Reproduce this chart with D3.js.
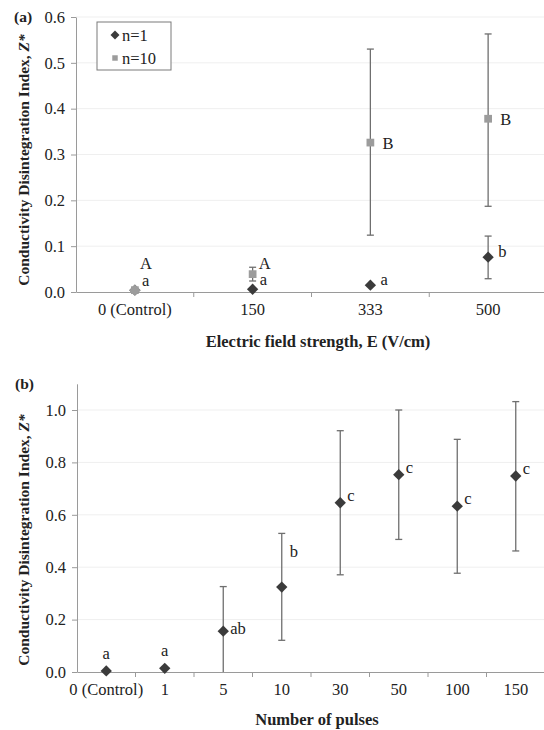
<!DOCTYPE html>
<html>
<head>
<meta charset="utf-8">
<script src="https://cdn.jsdelivr.net/npm/d3@7"></script>
<style>
  body { margin: 0; background: #fff; }
  svg text { font-family: "Liberation Serif", "DejaVu Serif", serif; fill: #222; }
</style>
</head>
<body>
<div id="chart"></div>
<script>
// ---- panel (a) data ----
const fieldCats = ["0 (Control)", "150", "333", "500"];
const n1Mean = [0.004, 0.006, 0.015, 0.076];
const n1Lo   = [null, null, null, 0.029];
const n1Hi   = [null, null, null, 0.122];
const n1Lbl  = ["a", "a", "a", "b"];
const n10Mean = [0.004, 0.039, 0.326, 0.378];
const n10Lo   = [null, 0.024, 0.124, 0.187];
const n10Hi   = [null, 0.054, 0.530, 0.563];
const n10Lbl  = ["A", "A", "B", "B"];
const yTicksA = [0, 0.1, 0.2, 0.3, 0.4, 0.5, 0.6];

// ---- panel (b) data ----
const pulseCats = ["0 (Control)", "1", "5", "10", "30", "50", "100", "150"];
const pulseMean = [0.004, 0.014, 0.156, 0.324, 0.646, 0.753, 0.633, 0.748];
const pulseLo   = [null, null, 0, 0.121, 0.371, 0.506, 0.377, 0.462];
const pulseHi   = [null, null, 0.326, 0.529, 0.921, 1.0, 0.888, 1.032];
const pulseLbl  = ["a", "a", "ab", "b", "c", "c", "c", "c"];
const yTicksB = [0, 0.2, 0.4, 0.6, 0.8, 1.0];

const W = 544, H = 730;
const svg = d3.select("#chart").append("svg")
  .attr("width", W).attr("height", H);

const diamond = d3.symbol().type(d3.symbolSquare).size(64);
const square = d3.symbol().type(d3.symbolSquare).size(60);
const axisCol = "#9a9a9a", gridCol = "#efefef", errCol = "#6f6f6f";
const FONT = "Liberation Serif, DejaVu Serif, serif";

function panel(o) {
  const g = svg.append("g");
  const x = d3.scaleBand().domain(o.cats).range([o.x0, o.x1]).padding(0);
  const y = d3.scaleLinear().domain([0, o.yMax]).range([o.yBottom, o.yTop]);

  // gridlines
  g.selectAll(".grid").data(o.yTicks.filter(d => d > 0)).enter().append("line")
    .attr("x1", o.x0).attr("x2", o.x1)
    .attr("y1", d => y(d)).attr("y2", d => y(d))
    .attr("stroke", gridCol).attr("stroke-width", 1);

  // y axis
  const yAxis = d3.axisLeft(y).tickValues(o.yTicks).tickFormat(d3.format(".1f"))
    .tickSize(5).tickSizeOuter(0).tickPadding(6);
  const ya = g.append("g").attr("transform", `translate(${o.x0},0)`).call(yAxis);
  ya.attr("font-family", FONT);
  ya.select(".domain").attr("stroke", axisCol);
  ya.selectAll(".tick line").attr("stroke", axisCol);
  ya.selectAll("text").attr("font-size", 16.5).attr("fill", "#222");

  // x axis: labels at centres, ticks at boundaries
  const xAxis = d3.axisBottom(x).tickSize(0).tickSizeOuter(0).tickPadding(11);
  const xa = g.append("g").attr("transform", `translate(0,${o.yBottom})`).call(xAxis);
  xa.attr("font-family", FONT);
  xa.select(".domain").attr("stroke", axisCol);
  xa.selectAll("text").attr("font-size", 16.5).attr("fill", "#222");
  xa.selectAll(".bnd").data(o.cats.slice(1)).enter().append("line")
    .attr("x1", d => x(d)).attr("x2", d => x(d))
    .attr("y1", 0).attr("y2", 5).attr("stroke", axisCol);

  // y title
  const yt = g.append("text")
    .attr("transform", `translate(${o.titleX},${o.titleY}) rotate(-90)`)
    .attr("text-anchor", "middle").attr("font-size", 15.5).attr("font-weight", "bold");
  yt.append("tspan").text("Conductivity Disintegration Index, ");
  yt.append("tspan").attr("font-style", "italic").text("Z*");

  // x title
  g.append("text").attr("x", o.xTitleX).attr("y", o.xTitleY)
    .attr("text-anchor", "middle").attr("font-size", 16.5).attr("font-weight", "bold")
    .text(o.xTitle);

  // panel label
  g.append("text").attr("x", o.tagX).attr("y", o.tagY)
    .attr("font-size", 15.5).attr("font-weight", "bold").text(o.tag);

  return {g, x, y};
}

function series(p, cats, mean, lo, hi, color, sym, rot) {
  const cx = d => p.x(d) + p.x.bandwidth() / 2;
  const rows = cats.map((c, i) => ({c, m: mean[i], lo: lo[i], hi: hi[i]}));
  const eb = rows.filter(r => r.hi !== null);
  p.g.selectAll(null).data(eb).enter().append("line")
    .attr("x1", r => cx(r.c)).attr("x2", r => cx(r.c))
    .attr("y1", r => p.y(r.lo)).attr("y2", r => p.y(r.hi))
    .attr("stroke", errCol).attr("stroke-width", 1.3);
  ["lo", "hi"].forEach(k => {
    p.g.selectAll(null).data(eb.filter(r => !(k === "lo" && r.lo === 0))).enter().append("line")
      .attr("x1", r => cx(r.c) - 3.5).attr("x2", r => cx(r.c) + 3.5)
      .attr("y1", r => p.y(r[k])).attr("y2", r => p.y(r[k]))
      .attr("stroke", errCol).attr("stroke-width", 1.3);
  });
  p.g.selectAll(null).data(rows).enter().append("path")
    .attr("d", sym)
    .attr("transform", r => `translate(${cx(r.c)},${p.y(r.m)}) rotate(${rot})`)
    .attr("fill", color);
  return cx;
}

// ---- panel (a) ----
const pa = panel({
  cats: fieldCats, x0: 76, x1: 547, yTop: 17, yBottom: 292, yMax: 0.6,
  yTicks: yTicksA, titleX: 29, titleY: 160, xTitle: "Electric field strength, E (V/cm)",
  xTitleX: 318, xTitleY: 347, tag: "(a)", tagX: 14, tagY: 22
});
const cxa = series(pa, fieldCats, n1Mean, n1Lo, n1Hi, "#3b3b3b", diamond, 45);
series(pa, fieldCats, n10Mean, n10Lo, n10Hi, "#9c9c9c", square, 0);
// control point: gray n=10 over dark
pa.g.append("path").attr("d", diamond)
  .attr("transform", `translate(${cxa(fieldCats[0])},${pa.y(n10Mean[0])}) rotate(45)`)
  .attr("fill", "#9c9c9c");

// letters panel (a)
fieldCats.forEach((c, i) => {
  const lx = cxa(c);
  pa.g.append("text").attr("font-size", 16.5)
    .attr("x", lx + (i < 2 ? 7 : 10)).attr("y", pa.y(n1Mean[i]) - (i < 2 ? 4 : 0))
    .text(n1Lbl[i]);
  const up = i === 0;
  pa.g.append("text").attr("font-size", 16.5)
    .attr("x", lx + (up ? 5 : i === 1 ? 6 : 12))
    .attr("y", up ? pa.y(n10Mean[i]) - 21 : (i === 1 ? pa.y(n10Hi[i]) + 2 : pa.y(n10Mean[i]) + 6))
    .text(n10Lbl[i]);
});

// legend
const leg = pa.g.append("g");
leg.append("rect").attr("x", 97).attr("y", 22).attr("width", 74).attr("height", 48)
  .attr("fill", "#fff").attr("stroke", "#7a7a7a").attr("stroke-width", 1);
leg.append("path").attr("d", d3.symbol().type(d3.symbolSquare).size(40))
  .attr("transform", "translate(115,35) rotate(45)").attr("fill", "#3b3b3b");
leg.append("text").attr("x", 122).attr("y", 40.5).attr("font-size", 16.5).text("n=1");
leg.append("path").attr("d", d3.symbol().type(d3.symbolSquare).size(30))
  .attr("transform", "translate(115,58)").attr("fill", "#9c9c9c");
leg.append("text").attr("x", 122).attr("y", 63.5).attr("font-size", 16.5).text("n=10");

// ---- panel (b) ----
const pb = panel({
  cats: pulseCats, x0: 77, x1: 545, yTop: 383.8, yBottom: 672, yMax: 1.1,
  yTicks: yTicksB, titleX: 29, titleY: 540, xTitle: "Number of pulses",
  xTitleX: 317, xTitleY: 725, tag: "(b)", tagX: 15, tagY: 389
});
const cxb = series(pb, pulseCats, pulseMean, pulseLo, pulseHi, "#3b3b3b", diamond, 45);
pulseCats.forEach((c, i) => {
  const lx = cxb(c);
  const t = pb.g.append("text").attr("font-size", 16.5).text(pulseLbl[i]);
  if (i < 2) {
    t.attr("x", lx).attr("y", pb.y(pulseMean[i]) - 12).attr("text-anchor", "middle");
  } else if (i === 3) {
    t.attr("x", lx + 8).attr("y", pb.y(pulseMean[i]) - 30);
  } else {
    t.attr("x", lx + 7).attr("y", pb.y(pulseMean[i]) + (i === 2 ? 3 : -2));
  }
});
</script>
</body>
</html>
